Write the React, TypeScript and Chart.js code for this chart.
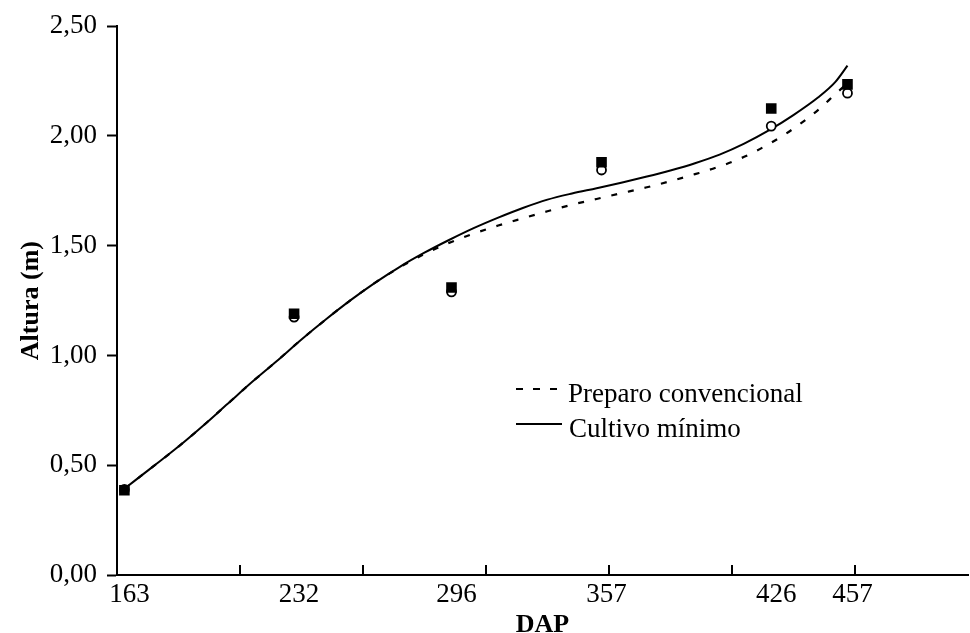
import React, { useEffect, useRef } from "react";
import { Chart, registerables } from "chart.js";

Chart.register(...registerables);

// Observed data (DAP = dias após plantio)
const dap = [163, 232, 296, 357, 426, 457];
const alturaCultivoMinimo = [0.386, 1.19, 1.31, 1.88, 2.125, 2.235];
const alturaPreparoConvencional = [0.39, 1.175, 1.29, 1.845, 2.045, 2.195];

// Fitted curves
const curveDays = [163, 175, 185, 195, 205, 215, 225, 235, 245, 255, 265, 275, 285, 295, 305, 315, 325, 335, 345, 355, 365, 375, 385, 395, 405, 415, 425, 435, 445, 452, 457];
const curveCultivoMinimo = [0.393, 0.497, 0.585, 0.68, 0.78, 0.88, 0.975, 1.073, 1.165, 1.252, 1.332, 1.404, 1.468, 1.526, 1.58, 1.628, 1.672, 1.71, 1.738, 1.762, 1.787, 1.814, 1.843, 1.876, 1.915, 1.965, 2.025, 2.095, 2.175, 2.245, 2.32];
const curvePreparoConvencional = [0.393, 0.497, 0.585, 0.68, 0.78, 0.88, 0.975, 1.073, 1.165, 1.252, 1.332, 1.402, 1.462, 1.513, 1.555, 1.592, 1.625, 1.657, 1.687, 1.713, 1.739, 1.765, 1.794, 1.826, 1.861, 1.905, 1.963, 2.033, 2.118, 2.19, 2.24];

// Axis ticks
const xTickMarks = [210, 260, 310, 360, 410, 460];
const yTicks = [0, 0.5, 1, 1.5, 2, 2.5];

const legendLabels = ["Preparo convencional", "Cultivo mínimo"];

const FONT = '"Liberation Serif", "Times New Roman", serif';

export default function App() {
  const ref = useRef<HTMLCanvasElement | null>(null);

  useEffect(() => {
    document.body.style.margin = "0";
    const canvas = ref.current;
    if (!canvas) return;

    const tickMarkPlugin = {
      id: "tickMarks",
      afterDraw(chart: any) {
        const ctx = chart.ctx;
        const xs = chart.scales.x;
        const bottom = chart.chartArea.bottom;
        ctx.save();
        ctx.strokeStyle = "#000";
        ctx.lineWidth = 2;
        xTickMarks.forEach((v) => {
          const px = Math.round(xs.getPixelForValue(v));
          ctx.beginPath();
          ctx.moveTo(px, bottom);
          ctx.lineTo(px, bottom - 10);
          ctx.stroke();
        });
        // legend
        const lx = 516;
        const ly1 = 389;
        const ly2 = 424;
        ctx.lineWidth = 2.2;
        ctx.setLineDash([7, 10]);
        ctx.beginPath();
        ctx.moveTo(lx, ly1);
        ctx.lineTo(lx + 41, ly1);
        ctx.stroke();
        ctx.setLineDash([]);
        ctx.lineWidth = 2;
        ctx.beginPath();
        ctx.moveTo(lx, ly2);
        ctx.lineTo(lx + 46, ly2);
        ctx.stroke();
        ctx.fillStyle = "#000";
        ctx.font = `27px ${FONT}`;
        ctx.textBaseline = "alphabetic";
        ctx.textAlign = "left";
        ctx.fillText(legendLabels[0], 568, 402);
        ctx.fillText(legendLabels[1], 569, 437);
        ctx.restore();
      },
    };

    const chart = new Chart(canvas, {
      type: "scatter",
      data: {
        datasets: [
          {
            label: "Cultivo mínimo (obs.)",
            data: dap.map((d, i) => ({ x: d, y: alturaCultivoMinimo[i] })),
            pointStyle: "rect",
            pointRadius: 7.5,
            backgroundColor: "#000",
            borderColor: "#000",
            borderWidth: 0,
            order: 0,
          },
          {
            label: "Preparo convencional (obs.)",
            data: dap.map((d, i) => ({ x: d, y: alturaPreparoConvencional[i] })),
            pointStyle: "circle",
            pointRadius: 4.5,
            backgroundColor: "#fff",
            borderColor: "#000",
            borderWidth: 1.8,
            order: 1,
          },
          {
            label: legendLabels[1],
            data: curveDays.map((d, i) => ({ x: d, y: curveCultivoMinimo[i] })),
            showLine: true,
            pointRadius: 0,
            borderColor: "#000",
            borderWidth: 2,
            tension: 0.4,
            cubicInterpolationMode: "monotone",
            order: 2,
          },
          {
            label: legendLabels[0],
            data: curveDays.map((d, i) => ({ x: d, y: curvePreparoConvencional[i] })),
            showLine: true,
            pointRadius: 0,
            borderColor: "#000",
            borderWidth: 2.2,
            borderDash: [6, 11],
            tension: 0.4,
            cubicInterpolationMode: "monotone",
            order: 3,
          },
        ],
      },
      options: {
        animation: false,
        responsive: false,
        maintainAspectRatio: false,
        layout: { autoPadding: false, padding: { top: 25, right: 2, left: 0, bottom: 0 } },
        plugins: {
          legend: { display: false },
          tooltip: { enabled: false },
        },
        scales: {
          x: {
            type: "linear",
            min: 160,
            max: 506,
            afterBuildTicks: (scale: any) => {
              scale.ticks = dap.map((v) => ({ value: v }));
            },
            afterFit: (scale: any) => {
              scale.height = 58;
              scale.paddingRight = 0;
              scale.paddingLeft = 0;
            },
            ticks: {
              color: "#000",
              font: { family: FONT, size: 27 },
              padding: 4,
              labelOffset: 5,
              maxRotation: 0,
              autoSkip: false,
              callback: (v: any) => String(v),
            },
            grid: { display: true, drawOnChartArea: false, drawTicks: false, color: "transparent" },
            border: { display: true, color: "#000", width: 2 },
            title: {
              display: true,
              text: "DAP",
              color: "#000",
              font: { family: FONT, size: 26, weight: "bold" },
              padding: { top: 0, bottom: -8 },
            },
          },
          y: {
            min: 0,
            max: 2.5,
            afterBuildTicks: (scale: any) => {
              scale.ticks = yTicks.map((v) => ({ value: v }));
            },
            afterFit: (scale: any) => {
              scale.width = 117;
            },
            ticks: {
              color: "#000",
              font: { family: FONT, size: 27 },
              padding: 10,
              callback: (v: any) => Number(v).toFixed(2).replace(".", ","),
            },
            grid: {
              display: true,
              drawOnChartArea: false,
              drawTicks: true,
              tickLength: 10,
              tickColor: "#000",
              tickWidth: 2,
            },
            border: { display: true, color: "#000", width: 2 },
            title: {
              display: true,
              text: "Altura (m)",
              color: "#000",
              font: { family: FONT, size: 26, weight: "bold" },
              padding: { top: 16, bottom: 0 },
            },
          },
        },
      },
      plugins: [tickMarkPlugin],
    });

    return () => chart.destroy();
  }, []);

  return (
    <div style={{ width: 970, height: 633, background: "#fff" }}>
      <canvas ref={ref} width={970} height={633} style={{ width: 970, height: 633, display: "block" }} />
    </div>
  );
}
